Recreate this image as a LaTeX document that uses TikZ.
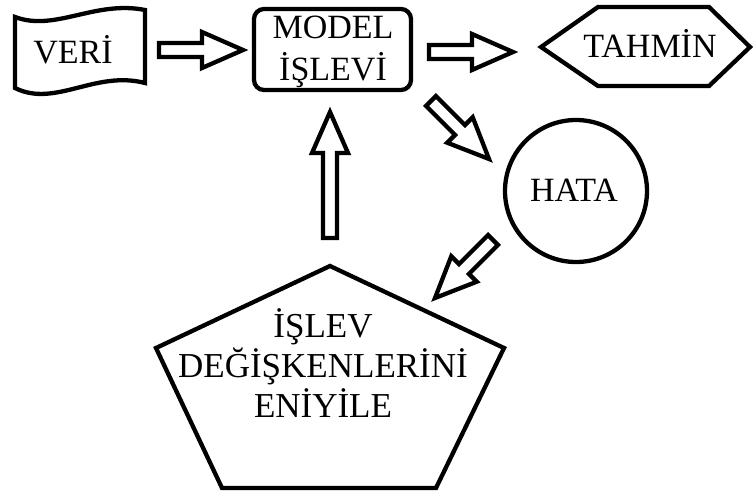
\documentclass[tikz,border=0pt]{standalone}
\usepackage{fontspec}
\setmainfont{Liberation Serif}
\begin{document}
\begin{tikzpicture}[x=1pt,y=-1pt,
  shapeline/.style={line width=4.3pt, line join=miter},
  lbl/.style={font=\fontsize{34}{42}\selectfont, inner sep=0pt, anchor=base},
  pics/blockarrow/.style={code={
    \draw[shapeline] (0,-7) -- ({#1-41},-7) -- ({#1-41},-18) -- (#1,0)
      -- ({#1-41},18) -- ({#1-41},7) -- (0,7) -- cycle;}}
]
\useasboundingbox[fill=white] (0,0) rectangle (756,498);

% data (wavy tape)
\draw[shapeline] (15,17) .. controls (55,32) and (95,0) .. (145,10) -- (145,83)
  .. controls (95,70) and (55,108) .. (15,88) -- cycle;
\node[lbl] (veri) at (73,63) {VERİ};

% model function (base anchor sits on the last line)
\node[shapeline, draw, rounded corners=10pt, minimum width=157pt,
  minimum height=81pt] (model) at (332.5,49.5) {};
\node[lbl, align=center] (modeltxt) at (333,80) {MODEL\\İŞLEVİ};

% prediction
\draw[shapeline] (541,47) -- (598,7) -- (709,7) -- (750,47) -- (709,86)
  -- (598,86) -- cycle;
\node[lbl] (tahmin) at (650,57) {TAHMİN};

% error
\node[shapeline, draw, circle, minimum size=142pt, inner sep=0pt] (hata) at (576,191) {};
\node[lbl] (hatatxt) at (574,201) {HATA};

% optimise parameters
\draw[shapeline] (330,266) -- (504,348) -- (436,488) -- (222,488) -- (156,348) -- cycle;
\node[lbl, align=center, font=\fontsize{35}{40}\selectfont] (opt) at (323,417)
  {İŞLEV\\DEĞİŞKENLERİNİ\\ENİYİLE};

% block arrows (rotation is counter-clockwise on the page)
\pic at (159,50) {blockarrow=84};
\pic at (429,52) {blockarrow=84};
\pic[rotate=-45] at (431,101) {blockarrow=82};
\pic[rotate=-135] at (493,240) {blockarrow=82};
\pic[rotate=90] at (330,238) {blockarrow=126};
\end{tikzpicture}
\end{document}
